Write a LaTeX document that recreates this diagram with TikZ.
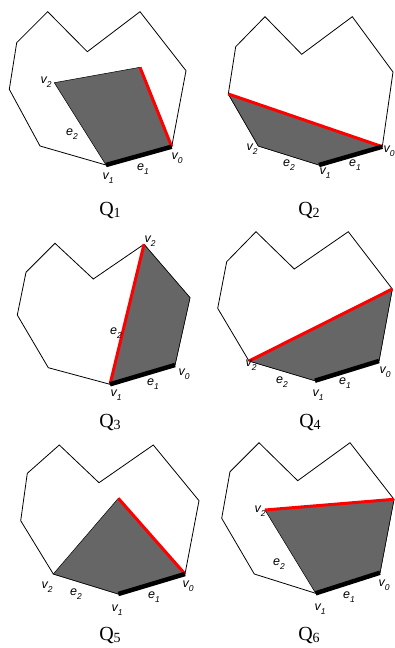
\documentclass[tikz,border=0pt]{standalone}
\usepackage{fontspec}
\setmainfont{Liberation Serif}
\setsansfont{Liberation Sans}
\newcommand{\vlab}[2]{#1\raisebox{-.55ex}{\fontsize{8.5}{8.5}\selectfont #2}}
\newcommand{\qlab}[1]{Q\raisebox{-.3ex}{\fontsize{14}{14}\selectfont #1}}

\begin{document}
\begin{tikzpicture}[x=1pt,y=-1pt,
  outline/.style={line width=.8pt,line join=miter},
  region/.style={fill=black!60,draw=black,line width=.5pt},
  cut/.style={red,line width=3pt},
  base/.style={black,line width=4.5pt},
  lab/.style={font=\sffamily\itshape\fontsize{12.5}{12.5}\selectfont,inner sep=0pt},
  qcap/.style={font=\fontsize{20}{20}\selectfont,inner sep=0pt,anchor=base}]
\useasboundingbox (0,0) rectangle (395,648);
\coordinate (a0) at (171.7,146.7);
\coordinate (a1) at (106,165);
\coordinate (a2) at (54.3,82.7);
\coordinate (at) at (140,67.3);
\draw[outline] (16.7,42.7)--(47.7,11.7)--(87.3,51.7)--(140,11.7)--(186,70.7)--(a0)--(a1)--(40,146)--(9.3,89.3)--cycle;
\draw[region] (a1)--(a0)--(at)--(a2)--cycle;
\draw[cut] (a0)--(at);
\draw[base] (a1)--(a0);
\node[lab] (a2l) at (46,82) {\vlab{v}{2}};
\node[lab] (ae2) at (72,134) {\vlab{e}{2}};
\node[lab] (a1l) at (108,178) {\vlab{v}{1}};
\node[lab] (ae1) at (143,169) {\vlab{e}{1}};
\node[lab] (a0l) at (177,158) {\vlab{v}{0}};
\node[qcap] (qa) at (110,215) {\qlab{1}};
\coordinate (b0) at (382.3,146.7);
\coordinate (b1) at (319,165);
\coordinate (b2) at (258.3,146);
\coordinate (bt) at (228.3,94);
\draw[outline] (235.7,46.7)--(265,16.7)--(301.7,54.3)--(352.3,16.7)--(393,72)--(b0)--(b1)--(b2)--(bt)--cycle;
\draw[region] (bt)--(b2)--(b1)--(b0)--cycle;
\draw[cut] (bt)--(b0);
\draw[base] (b1)--(b0);
\node[lab] (b2l) at (252,149) {\vlab{v}{2}};
\node[lab] (be2) at (289,165) {\vlab{e}{2}};
\node[lab] (b1l) at (325,173) {\vlab{v}{1}};
\node[lab] (be1) at (355,165) {\vlab{e}{1}};
\node[lab] (b0l) at (389,151) {\vlab{v}{0}};
\node[qcap] (qb) at (309,215) {\qlab{2}};
\coordinate (c0) at (175,365);
\coordinate (c1) at (110,384.3);
\coordinate (c2) at (144,244.3);
\coordinate (ct) at (190,297.7);
\draw[outline] (c2)--(93.3,279)--(55,243.3)--(26,272.3)--(17.3,315)--(48.3,367.7)--(c1)--(c0)--(ct)--cycle;
\draw[region] (c1)--(c0)--(ct)--(c2)--cycle;
\draw[cut] (c1)--(c2);
\draw[base] (c1)--(c0);
\node[lab] (c2l) at (150,241) {\vlab{v}{2}};
\node[lab] (ce2) at (116,333) {\vlab{e}{2}};
\node[lab] (c1l) at (116,395) {\vlab{v}{1}};
\node[lab] (ce1) at (153,384) {\vlab{e}{1}};
\node[lab] (c0l) at (184,374) {\vlab{v}{0}};
\node[qcap] (qc) at (110,427) {\qlab{3}};
\coordinate (d0) at (379,361);
\coordinate (d1) at (315,380.7);
\coordinate (d2) at (249,361);
\coordinate (dt) at (392.3,289);
\draw[outline] (226.7,261.7)--(256,231.7)--(294.3,269)--(348.3,231.7)--(dt)--(d0)--(d1)--(d2)--(217.7,308.3)--cycle;
\draw[region] (d2)--(d1)--(d0)--(dt)--cycle;
\draw[cut] (d2)--(dt);
\draw[base] (d1)--(d0);
\node[lab] (d2l) at (251,365) {\vlab{v}{2}};
\node[lab] (de2) at (282,382) {\vlab{e}{2}};
\node[lab] (d1l) at (318,395) {\vlab{v}{1}};
\node[lab] (de1) at (345,383) {\vlab{e}{1}};
\node[lab] (d0l) at (385,372) {\vlab{v}{0}};
\node[qcap] (qd) at (310,427) {\qlab{4}};
\coordinate (e0) at (185,574);
\coordinate (e1) at (118.3,594);
\coordinate (e2) at (53.3,574);
\coordinate (et) at (118.3,498.3);
\draw[outline] (27.3,473.3)--(59.3,445)--(99,482.7)--(153.3,445)--(199,500.7)--(e0)--(e1)--(e2)--(20.7,520.7)--cycle;
\draw[region] (e2)--(e1)--(e0)--(et)--cycle;
\draw[cut] (e0)--(et);
\draw[base] (e1)--(e0);
\node[lab] (e2l) at (47,587) {\vlab{v}{2}};
\node[lab] (ee2) at (76,594) {\vlab{e}{2}};
\node[lab] (e1l) at (117,610) {\vlab{v}{1}};
\node[lab] (ee1) at (154,597) {\vlab{e}{1}};
\node[lab] (e0l) at (188,586) {\vlab{v}{0}};
\node[qcap] (qe) at (110,640) {\qlab{5}};
\coordinate (f0) at (380,572.7);
\coordinate (f1) at (315.7,593.3);
\coordinate (f2) at (265,510);
\coordinate (ft) at (394,499.3);
\draw[outline] (230,471.7)--(259,442.7)--(297.7,480.7)--(350,442.7)--(ft)--(f0)--(f1)--(254.3,574)--(221.7,518.3)--cycle;
\draw[region] (f1)--(f0)--(ft)--(f2)--cycle;
\draw[cut] (f2)--(ft);
\draw[base] (f1)--(f0);
\node[lab] (f2l) at (260,511) {\vlab{v}{2}};
\node[lab] (fe2) at (279,564) {\vlab{e}{2}};
\node[lab] (f1l) at (320,609) {\vlab{v}{1}};
\node[lab] (fe1) at (349,597) {\vlab{e}{1}};
\node[lab] (f0l) at (384,585) {\vlab{v}{0}};
\node[qcap] (qf) at (309,640) {\qlab{6}};
\end{tikzpicture}
\end{document}
